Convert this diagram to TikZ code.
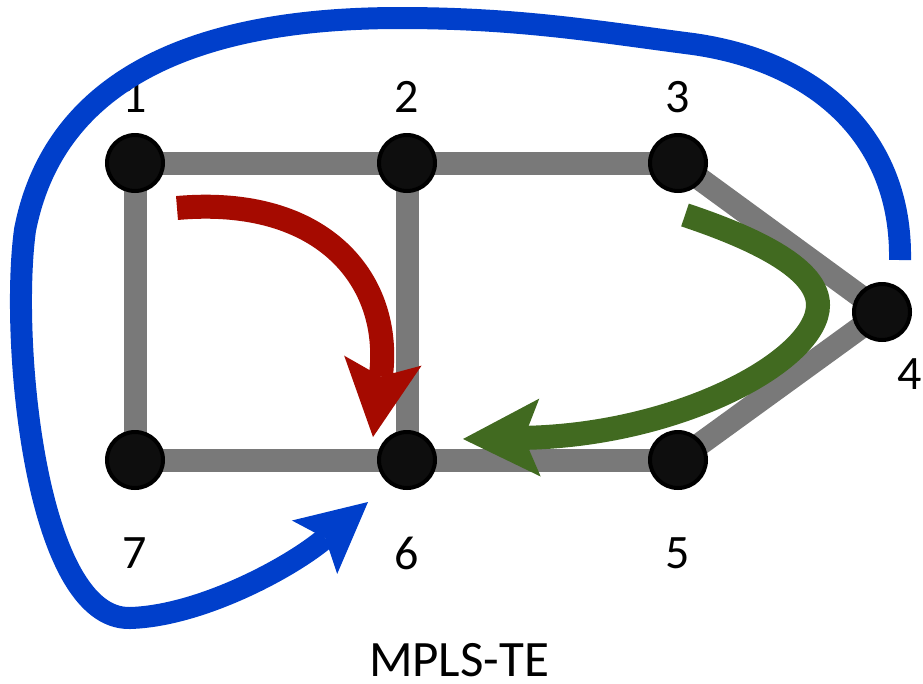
\documentclass[tikz,border=0pt]{standalone}
\usepackage{fontspec}
\setmainfont{Carlito}
\usetikzlibrary{arrows.meta,positioning,backgrounds}

\definecolor{linkgray}{HTML}{797979}
\definecolor{routerfill}{HTML}{0E0E0E}
\definecolor{lspred}{HTML}{A50A00}
\definecolor{lspgreen}{HTML}{416A20}
\definecolor{lspblue}{HTML}{003FCB}

\begin{document}
\begin{tikzpicture}[
  x=1pt, y=-1pt,
  router/.style={circle, draw=black, fill=routerfill, line width=4pt,
                 minimum size=56pt, inner sep=0pt},
  num/.style={inner sep=0pt, font=\fontsize{48}{56}\selectfont},
  link/.style={draw=linkgray, line width=23pt},
  lsp/.style={line width=24pt,
              -{Stealth[length=77pt, width=78pt, inset=16pt, line width=0pt]}}
]
\useasboundingbox (0,0) rectangle (923,683);

% routers
\node[router] (n1) at (135,163) {};
\node[router] (n2) at (407,163) {};
\node[router] (n3) at (678,163) {};
\node[router] (n4) at (882,312) {};
\node[router] (n5) at (678,460) {};
\node[router] (n6) at (407,460) {};
\node[router] (n7) at (135,460) {};

\node[num, above=20pt of n1] (l1) {1};
\node[num, above=20pt of n2] (l2) {2};
\node[num, above=20pt of n3] (l3) {3};
\node[num, anchor=north west] (l4) at (897,358) {4};
\node[num, below=47pt of n5] (l5) {5};
\node[num, below=47pt of n6] (l6) {6};
\node[num, below=47pt of n7] (l7) {7};

\node[inner sep=0pt, font=\fontsize{51}{60}\selectfont, anchor=base] (title)
  at (459,676) {MPLS-TE};

% links under the routers
\begin{pgfonlayer}{background}
\foreach \a/\b in {n1/n2, n2/n3, n3/n4, n4/n5, n5/n6, n6/n7, n7/n1, n2/n6}
  \draw[link] (\a.center) -- (\b.center);
\end{pgfonlayer}

% tunnels
\coordinate (redstart) at (177,208);
\coordinate (redend) at (373,437);
\coordinate (greenstart) at (685,215);
\coordinate (greenend) at (463,439);
\coordinate (bluestart) at (900,260);
\coordinate (blueend) at (368,502);

\draw[lsp, lspred] (redstart) .. controls (325,195) and (393,282) .. (redend);
\draw[lsp, lspgreen] (greenstart) .. controls (760,240) and (818,270) .. (818,305)
  .. controls (818,360) and (680,435) .. (greenend);
\draw[lsp, lspblue, line width=22pt,
      -{Stealth[length=70pt, width=70pt, inset=14pt, line width=0pt]}]
  (bluestart) .. controls (902,140) and (820,62) .. (693,44)
  .. controls (600,32) and (520,18) .. (400,18)
  .. controls (250,18) and (60,50) .. (25,230)
  .. controls (10,340) and (35,620) .. (130,618)
  .. controls (200,616) and (290,568) .. (blueend);
\end{tikzpicture}
\end{document}
